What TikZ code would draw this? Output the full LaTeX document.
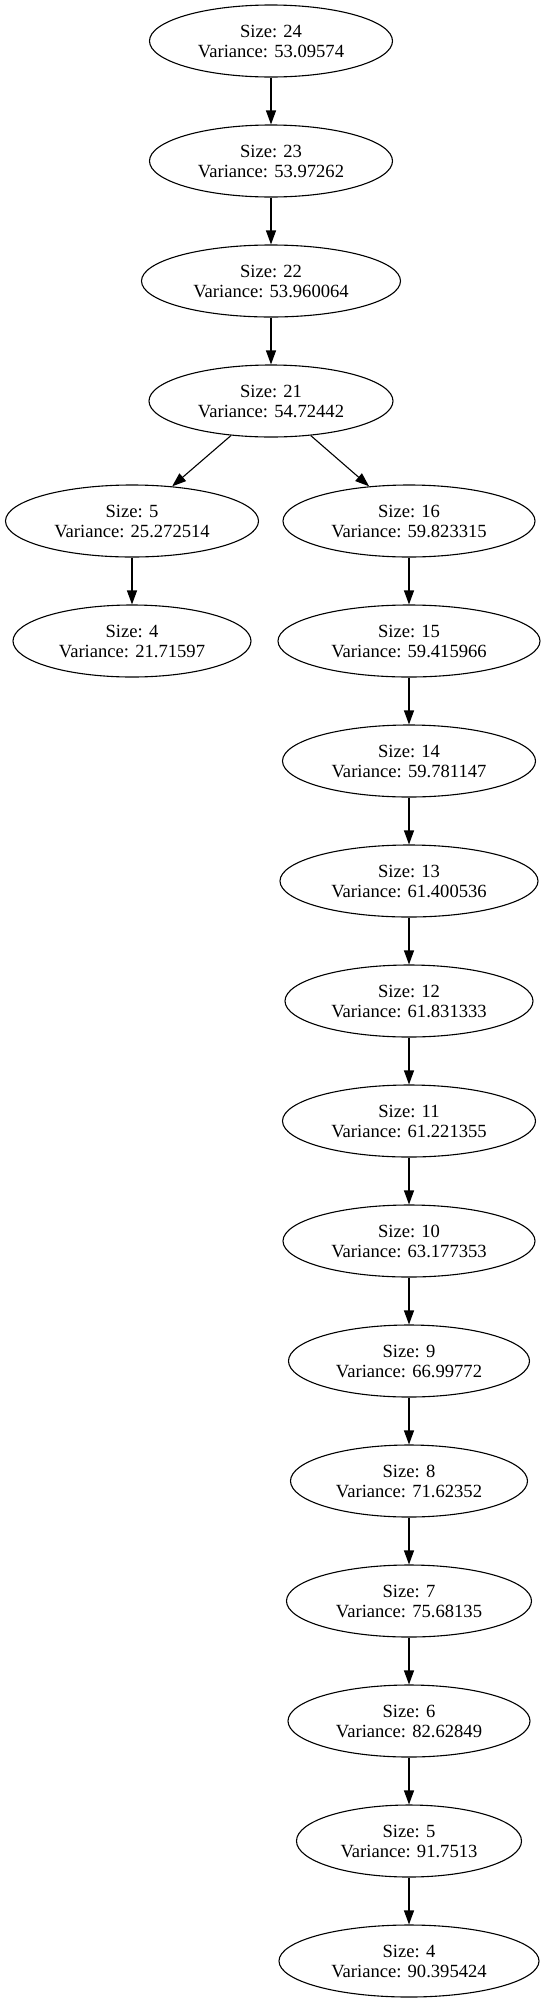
\documentclass[tikz,border=0pt]{standalone}
\usepackage{fontspec}
\setmainfont{Liberation Serif}
\usetikzlibrary{shapes.geometric,arrows.meta}

\begin{document}
\begin{tikzpicture}[x=1pt,y=-1pt,
    cluster/.style={ellipse, draw, line width=1.1pt, inner sep=0pt,
        minimum height=72pt, minimum width=#1, align=center,
        font=\fontsize{18.6}{20}\selectfont},
    link/.style={-{Triangle[length=14pt,width=10pt]}, line width=1.1pt}]
    \useasboundingbox (0,0) rectangle (544,2003);

    % Trunk
    \node[cluster=243] (s24) at (271,41) {Size: 24\\Variance: 53.09574};
    \node[cluster=243] (s23) at (271,161) {Size: 23\\Variance: 53.97262};
    \node[cluster=259] (s22) at (271,281) {Size: 22\\Variance: 53.960064};
    \node[cluster=244] (s21) at (271,401) {Size: 21\\Variance: 54.72442};

    % Left branch
    \node[cluster=253] (l5) at (132,521) {Size: 5\\Variance: 25.272514};
    \node[cluster=238] (l4) at (132,641) {Size: 4\\Variance: 21.71597};

    % Right branch
    \node[cluster=252] (r16) at (409,521) {Size: 16\\Variance: 59.823315};
    \node[cluster=262] (r15) at (409,641) {Size: 15\\Variance: 59.415966};
    \node[cluster=253] (r14) at (409,761) {Size: 14\\Variance: 59.781147};
    \node[cluster=258] (r13) at (409,881) {Size: 13\\Variance: 61.400536};
    \node[cluster=248] (r12) at (409,1001) {Size: 12\\Variance: 61.831333};
    \node[cluster=253] (r11) at (409,1121) {Size: 11\\Variance: 61.221355};
    \node[cluster=252] (r10) at (409,1241) {Size: 10\\Variance: 63.177353};
    \node[cluster=241] (r9) at (409,1361) {Size: 9\\Variance: 66.99772};
    \node[cluster=237] (r8) at (409,1481) {Size: 8\\Variance: 71.62352};
    \node[cluster=245] (r7) at (409,1601) {Size: 7\\Variance: 75.68135};
    \node[cluster=242] (r6) at (409,1721) {Size: 6\\Variance: 82.62849};
    \node[cluster=225] (r5) at (409,1841) {Size: 5\\Variance: 91.7513};
    \node[cluster=260] (r4) at (409,1961) {Size: 4\\Variance: 90.395424};

    % Edges
    \draw[link] (s24) -- (s23);
    \draw[link] (s23) -- (s22);
    \draw[link] (s22) -- (s21);
    \draw[link] (s21) -- (l5);
    \draw[link] (s21) -- (r16);
    \draw[link] (l5) -- (l4);
    \draw[link] (r16) -- (r15);
    \draw[link] (r15) -- (r14);
    \draw[link] (r14) -- (r13);
    \draw[link] (r13) -- (r12);
    \draw[link] (r12) -- (r11);
    \draw[link] (r11) -- (r10);
    \draw[link] (r10) -- (r9);
    \draw[link] (r9) -- (r8);
    \draw[link] (r8) -- (r7);
    \draw[link] (r7) -- (r6);
    \draw[link] (r6) -- (r5);
    \draw[link] (r5) -- (r4);

\end{tikzpicture}
\end{document}
